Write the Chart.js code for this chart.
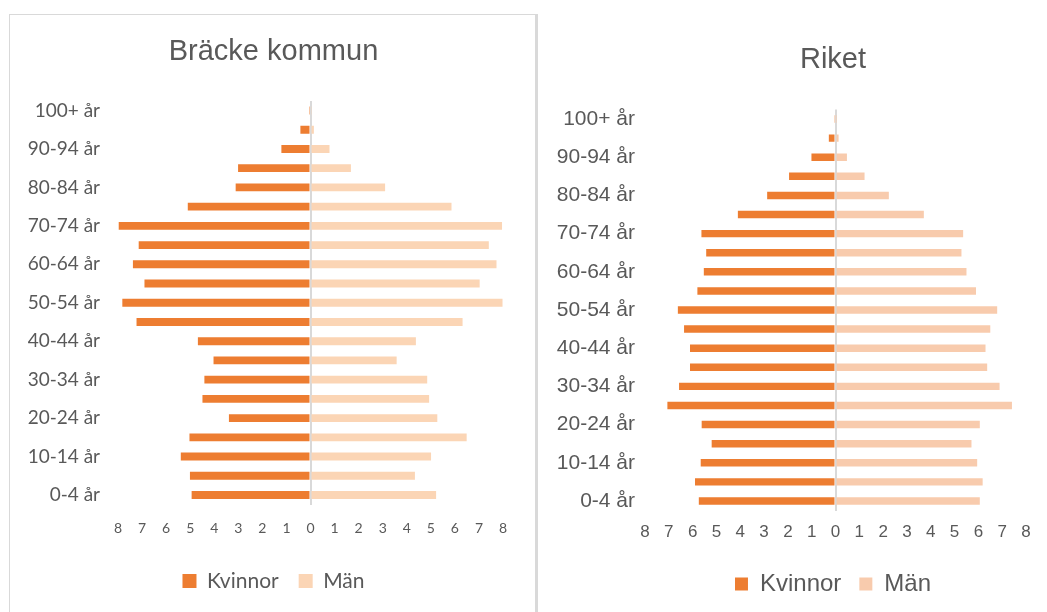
<!DOCTYPE html>
<html>
<head>
<meta charset="utf-8">
<script src="https://cdn.jsdelivr.net/npm/chart.js@4.4.0/dist/chart.umd.min.js"></script>
<style>
html,body{margin:0;padding:0;width:1047px;height:612px;overflow:hidden;background:#fff;}
#p1{position:absolute;left:9px;top:14px;width:527px;height:620px;border:1px solid #d9d9d9;box-sizing:border-box;}
#p2{position:absolute;left:536px;top:14px;width:2px;height:620px;background:#d9d9d9;}
#w1{position:absolute;left:10px;top:15px;width:527px;height:597px;}
#w2{position:absolute;left:538px;top:15px;width:590px;height:597px;}
</style>
</head>
<body>
<div id="p1"></div>
<div id="p2"></div>
<div id="w1"><canvas id="c1"></canvas></div>
<div id="w2"><canvas id="c2"></canvas></div>
<script>
const ageGroups = ['100+ år','95-99 år','90-94 år','85-89 år','80-84 år','75-79 år','70-74 år','65-69 år','60-64 år','55-59 år','50-54 år','45-49 år','40-44 år','35-39 år','30-34 år','25-29 år','20-24 år','15-19 år','10-14 år','5-9 år','0-4 år'];
const tickValues = [-8,-7,-6,-5,-4,-3,-2,-1,0,1,2,3,4,5,6,7,8];
const seriesNames = ['Kvinnor','Män'];
const titles = ['Bräcke kommun','Riket'];

// Bräcke kommun, percent of population
const brackeKvinnor = [0.06,0.42,1.21,3.01,3.11,5.1,7.97,7.14,7.38,6.9,7.82,7.23,4.68,4.03,4.41,4.49,3.39,5.03,5.39,5.01,4.94];
const brackeMan     = [0.03,0.14,0.79,1.68,3.1,5.86,7.96,7.41,7.73,7.03,7.98,6.32,4.38,3.58,4.85,4.93,5.27,6.49,5.01,4.34,5.22];

// Riket, percent of population
const riketKvinnor = [0.03,0.28,1.01,1.95,2.87,4.1,5.63,5.43,5.53,5.8,6.62,6.36,6.11,6.11,6.57,7.06,5.62,5.2,5.66,5.9,5.74];
const riketMan     = [0.01,0.13,0.48,1.22,2.24,3.71,5.36,5.29,5.5,5.9,6.79,6.5,6.3,6.37,6.89,7.41,6.06,5.71,5.95,6.18,6.06];

const ORANGE = '#ED7D31';
const GRID = '#d9d9d9';
const TXT = '#595959';

function makeChart(id, cfg) {
  const ctx = document.getElementById(id);
  return new Chart(ctx, {
    type: 'bar',
    data: {
      labels: ageGroups,
      datasets: [
        { label: seriesNames[0], data: cfg.k.map(v => -v), backgroundColor: ORANGE, borderWidth: 0,
          barPercentage: cfg.barPct, categoryPercentage: 1 },
        { label: seriesNames[1], data: cfg.m, backgroundColor: cfg.mColor, borderWidth: 0,
          barPercentage: cfg.barPct, categoryPercentage: 1 }
      ]
    },
    options: {
      indexAxis: 'y',
      responsive: true,
      maintainAspectRatio: false,
      animation: false,
      events: [],
      layout: { padding: { left: 0, right: 0, top: 0, bottom: cfg.padBottom } },
      scales: {
        x: {
          stacked: true,
          min: -8, max: 8,
          afterBuildTicks: s => { s.ticks = tickValues.map(v => ({ value: v })); },
          afterFit: s => { s.height = cfg.xHeight; s.paddingLeft = 0; s.paddingRight = cfg.areaRight; },
          ticks: {
            color: TXT,
            font: { family: cfg.tickFamily, size: cfg.tickSize },
            padding: cfg.tickPad,
            maxRotation: 0,
            autoSkip: false,
            callback: v => String(Math.abs(v))
          },
          grid: {
            drawTicks: false,
            color: c => (c.tick && c.tick.value === 0) ? GRID : 'rgba(0,0,0,0)',
            lineWidth: 2
          },
          border: { display: false }
        },
        y: {
          stacked: true,
          afterFit: s => { s.width = cfg.yWidth; },
          ticks: {
            color: TXT,
            font: { family: cfg.labelFamily, size: cfg.labelSize },
            padding: cfg.labelPad,
            autoSkip: false,
            callback: function(v, i) { return i % 2 === 0 ? this.getLabelForValue(v) : ''; }
          },
          grid: { display: false, drawTicks: false },
          border: { display: false }
        }
      },
      plugins: {
        tooltip: { enabled: false },
        title: {
          display: true,
          text: cfg.title,
          color: TXT,
          font: { family: 'Liberation Sans', size: 29, weight: 'normal' },
          padding: { top: cfg.titleTop, bottom: cfg.titleBottom }
        },
        legend: {
          display: true,
          position: 'bottom',
          labels: {
            color: TXT,
            font: { family: cfg.legendFamily, size: cfg.legendSize },
            boxWidth: cfg.box, boxHeight: cfg.box,
            padding: cfg.legendPad
          }
        }
      }
    }
  });
}

makeChart('c1', {
  k: brackeKvinnor, m: brackeMan, mColor: '#FBD5B5', title: titles[0],
  barPct: 0.41, areaRight: 34, padBottom: 10.5, xHeight: 45.9,
  tickFamily: 'Lato', tickSize: 14, tickPad: 15,
  labelFamily: 'Lato', labelSize: 19, labelPad: 18, yWidth: 108,
  titleTop: 19.6, titleBottom: 31.5,
  legendFamily: 'Lato', legendSize: 21, box: 14, legendPad: 20
});

makeChart('c2', {
  k: riketKvinnor, m: riketMan, mColor: '#F8CBAD', title: titles[1],
  barPct: 0.39, areaRight: 102, padBottom: 6, xHeight: 43.5,
  tickFamily: 'Liberation Sans', tickSize: 17, tickPad: 11.3,
  labelFamily: 'Liberation Sans', labelSize: 21, labelPad: 10, yWidth: 107,
  titleTop: 27.6, titleBottom: 32.1,
  legendFamily: 'Liberation Sans', legendSize: 24, box: 13, legendPad: 18
});
</script>
</body>
</html>
